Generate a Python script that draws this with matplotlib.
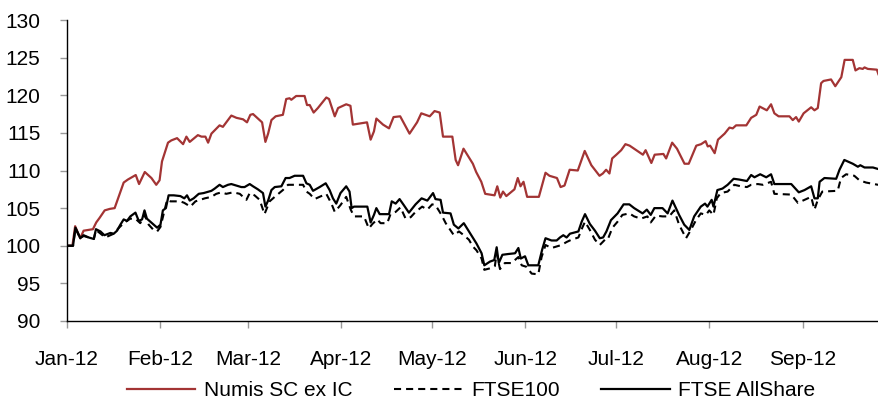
import matplotlib
matplotlib.use('Agg')
import matplotlib.pyplot as plt
import matplotlib.dates as mdates
import numpy as np

# ---------------- data (days since 1 Jan 2012, index level) ----------------
numis_days = [0, 1.8, 2.7, 4.4, 5.5, 8.6, 9.7, 10.8, 12.5, 14.2,
              15.8, 18.8, 20.2, 22.8, 23.9, 25.8, 28.0, 29.6, 30.7, 31.5,
              33.5, 34.6, 36.5, 38.5, 39.6, 40.7, 43.4, 44.6, 45.9, 46.8,
              47.9, 50.6, 51.7, 54.5, 56.2, 58.4, 59.7, 60.8, 61.7, 64.7,
              65.8, 66.7, 67.8, 69.2, 71.6, 72.7, 73.8, 74.4, 76.0, 78.8,
              79.6, 80.5, 81.8, 83.2, 86.0, 86.9, 88.8, 89.9, 92.6, 94.0,
              94.8, 99.5, 100.7, 101.8, 102.6, 104.8, 106.8, 108.3, 110.5, 113.6,
              116.1, 117.5, 120.3, 121.9, 123.6, 124.7, 127.8, 128.9, 129.7, 131.5,
              134.6, 135.7, 137.4, 138.7, 141.8, 142.7, 143.7, 144.6, 145.7, 148.4,
              149.5, 150.4, 151.4, 152.6, 156.5, 158.7, 160.0, 162.5, 163.7, 165.0,
              166.7, 169.4, 171.7, 173.9, 176.6, 177.7, 178.8, 179.9, 180.8, 182.2,
              183.8, 185.2, 186.6, 191.0, 191.9, 193.8, 194.9, 197.8, 198.7, 200.7,
              202.3, 204.8, 206.2, 208.7, 210.3, 211.8, 212.5, 213.3, 214.8, 215.9,
              218.1, 219.7, 220.8, 221.9, 225.3, 226.9, 228.6, 229.7, 232.1, 233.5,
              234.6, 236.0, 239.6, 240.7, 241.8, 242.7, 244.3, 246.8, 247.9, 249.0,
              250.1, 250.9, 253.4, 254.8, 256.8, 257.9, 260.6, 261.5, 262.8, 263.9,
              264.5, 265.6, 268.6, 269.1]
numis_vals = [100, 100, 102.6, 101.0, 102.0, 102.2, 103.1, 103.7, 104.7, 104.9,
              105.0, 108.4, 108.8, 109.4, 108.2, 109.8, 109.0, 108.1, 108.7, 111.2,
              113.7, 114.0, 114.3, 113.5, 114.5, 113.8, 114.7, 114.5, 114.5, 113.7,
              114.9, 116.0, 115.8, 117.3, 117.0, 116.8, 116.4, 117.4, 117.5, 116.4,
              113.8, 114.9, 116.7, 117.2, 117.4, 119.5, 119.6, 119.4, 119.9, 119.9,
              118.7, 118.7, 117.7, 118.3, 119.7, 119.5, 117.2, 118.3, 118.8, 118.6,
              116.1, 116.4, 114.1, 115.2, 116.9, 116.1, 115.6, 117.1, 117.2, 114.9,
              116.4, 117.6, 117.2, 117.9, 117.7, 114.5, 114.5, 111.4, 110.7, 112.9,
              110.9, 109.8, 108.5, 106.9, 106.7, 107.9, 106.4, 107.2, 106.6, 107.5,
              109.0, 107.9, 108.5, 106.5, 106.5, 109.7, 109.3, 109.0, 107.8, 108.0,
              110.1, 110.0, 112.6, 110.7, 109.3, 109.6, 110.1, 109.6, 111.6, 112.1,
              112.7, 113.5, 113.3, 112.1, 112.7, 111.0, 112.1, 112.2, 111.6, 113.7,
              112.9, 110.9, 110.9, 113.3, 113.5, 113.9, 113.2, 113.3, 112.3, 114.1,
              114.9, 115.7, 115.6, 116.0, 116.0, 117.0, 117.4, 118.5, 118.0, 118.8,
              117.6, 117.2, 117.2, 116.7, 117.1, 116.5, 117.6, 118.4, 118.0, 118.3,
              121.6, 121.9, 122.1, 121.2, 122.4, 124.7, 124.7, 123.3, 123.6, 123.5,
              123.7, 123.5, 123.4, 122.8]

allshare_days = [0, 2.0, 2.8, 4.4, 5.5, 7.2, 8.9, 9.6, 11.1, 12.4,
                 14.4, 15.5, 16.6, 17.7, 18.8, 19.9, 21.0, 22.7, 23.8, 24.9,
                 25.7, 26.5, 28.2, 29.9, 31.0, 31.8, 32.8, 33.7, 35.4, 37.6,
                 38.9, 39.8, 40.7, 42.0, 43.7, 45.3, 47.9, 49.0, 50.6, 51.7,
                 53.4, 54.5, 56.2, 57.8, 58.9, 60.6, 61.7, 63.3, 65.0, 65.8,
                 66.7, 67.8, 68.9, 71.1, 72.5, 73.8, 75.5, 78.3, 79.4, 80.5,
                 81.6, 83.8, 85.8, 87.1, 88.2, 89.3, 90.7, 92.6, 93.7, 94.4,
                 95.2, 99.6, 100.7, 101.8, 102.6, 103.7, 106.8, 107.7, 109.0, 110.3,
                 111.7, 113.4, 115.6, 117.6, 119.5, 121.4, 122.2, 123.9, 124.7, 127.2,
                 128.3, 129.8, 131.6, 133.3, 135.8, 137.5, 138.4, 140.3, 141.7, 142.5,
                 143.2, 144.4, 146.3, 148.6, 149.7, 150.5, 151.9, 153.0, 156.3, 157.6,
                 158.7, 160.7, 162.4, 163.5, 164.6, 165.7, 166.8, 169.6, 170.7, 171.8,
                 173.4, 175.1, 176.7, 177.8, 178.9, 180.4, 182.6, 184.6, 186.5, 188.1,
                 190.9, 192.3, 193.6, 194.8, 197.5, 199.2, 200.8, 203.0, 204.7, 206.4,
                 208.0, 210.2, 211.6, 212.4, 213.8, 214.4, 215.7, 217.4, 219.1, 221.1,
                 222.9, 225.5, 226.9, 228.0, 229.9, 231.9, 233.5, 234.6, 240.2, 242.7,
                 244.6, 246.8, 247.9, 249.0, 249.6, 251.2, 255.1, 256.2, 257.8, 260.6,
                 262.3, 263.1, 264.5, 267.3, 269.0]
allshare_vals = [100, 100, 102.4, 101.0, 101.4, 101.1, 100.9, 102.2, 101.9, 101.4,
                 101.7, 101.6, 102.0, 102.8, 103.5, 103.3, 103.9, 104.4, 103.3, 103.5,
                 104.7, 103.6, 103.0, 102.4, 102.8, 104.7, 105.0, 106.7, 106.7, 106.6,
                 106.3, 106.7, 106.0, 106.3, 106.9, 107.0, 107.3, 107.6, 108.1, 107.8,
                 108.1, 108.2, 108.0, 107.8, 107.8, 108.2, 107.9, 107.5, 107.0, 105.2,
                 106.0, 107.4, 107.8, 107.9, 109.0, 109.0, 109.3, 109.3, 108.3, 108.1,
                 107.3, 107.8, 108.3, 107.4, 106.3, 105.6, 107.0, 107.9, 107.2, 105.0,
                 105.2, 105.2, 103.1, 104.1, 105.0, 104.2, 104.2, 105.9, 105.6, 106.2,
                 105.4, 104.4, 105.5, 106.3, 106.0, 107.0, 106.2, 106.1, 104.4, 104.3,
                 102.8, 102.3, 103.0, 101.9, 100.3, 99.0, 97.4, 97.9, 98.1, 99.8,
                 97.7, 98.8, 98.9, 99.0, 99.7, 98.3, 98.6, 97.4, 97.4, 99.5,
                 101.0, 100.7, 100.7, 101.1, 101.4, 101.1, 101.6, 101.9, 103.2, 104.2,
                 102.9, 102.0, 101.0, 101.1, 101.9, 103.4, 104.3, 105.5, 105.5, 105.0,
                 104.3, 104.8, 104.1, 105.0, 105.0, 104.3, 106.0, 104.1, 102.8, 102.1,
                 103.9, 105.2, 105.6, 105.2, 106.1, 105.2, 107.4, 107.6, 108.1, 108.9,
                 108.8, 108.6, 109.4, 109.1, 109.5, 109.1, 109.5, 108.2, 108.2, 107.1,
                 107.4, 107.9, 106.3, 106.3, 108.5, 109.0, 108.9, 110.1, 111.4, 110.9,
                 110.5, 110.7, 110.4, 110.4, 110.2]

ftse100_days = [0, 2.0, 2.8, 4.4, 5.5, 8.9, 9.6, 12.7, 15.5, 17.0,
                18.8, 21.0, 22.7, 24.3, 25.7, 27.1, 28.7, 29.9, 31.0, 32.1,
                33.2, 34.3, 37.6, 38.9, 40.9, 42.6, 44.2, 45.7, 47.9, 49.5,
                51.2, 52.8, 55.1, 57.3, 59.5, 60.6, 62.2, 63.9, 65.5, 67.2,
                68.9, 71.6, 73.3, 76.1, 78.3, 79.4, 80.5, 82.1, 83.8, 86.0,
                87.7, 88.8, 90.7, 92.6, 94.1, 95.2, 98.5, 100.1, 101.3, 102.9,
                104.0, 106.2, 107.3, 109.0, 110.6, 112.3, 114.0, 115.6, 117.8, 119.5,
                121.1, 122.2, 124.2, 125.6, 128.3, 130.0, 131.6, 133.3, 134.6, 135.8,
                137.5, 138.4, 140.3, 141.9, 142.5, 143.6, 145.2, 147.4, 149.7, 150.8,
                152.4, 154.1, 156.3, 157.4, 158.7, 160.7, 162.4, 164.0, 165.7, 167.3,
                169.6, 170.9, 171.8, 173.4, 175.1, 176.7, 178.4, 179.3, 180.9, 182.6,
                184.2, 186.5, 188.1, 190.3, 192.5, 193.6, 195.3, 197.5, 199.7, 201.4,
                203.0, 205.3, 206.9, 208.6, 210.2, 211.9, 213.0, 214.4, 215.5, 216.8,
                219.1, 221.3, 223.5, 225.5, 226.9, 229.1, 230.8, 233.5, 234.6, 240.2,
                242.4, 244.6, 246.8, 247.9, 249.0, 250.5, 255.6, 256.7, 258.4, 261.1,
                262.8, 265.0, 269.0]
ftse100_vals = [100, 100, 102.3, 101.0, 101.3, 100.9, 102.1, 101.1, 101.6, 102.3,
                103.0, 103.6, 103.6, 103.0, 104.1, 102.8, 102.1, 101.9, 102.5, 104.3,
                106.1, 105.9, 105.9, 105.7, 105.2, 105.9, 106.1, 106.3, 106.5, 106.9,
                107.1, 106.9, 107.1, 106.9, 106.1, 107.0, 106.7, 106.1, 104.2, 105.9,
                106.5, 107.4, 108.1, 108.1, 108.1, 107.2, 106.9, 106.2, 106.5, 106.9,
                105.6, 104.5, 105.4, 106.5, 104.8, 103.9, 103.9, 102.3, 102.9, 103.5,
                103.0, 103.0, 104.2, 104.5, 105.1, 103.6, 103.8, 104.5, 105.2, 104.8,
                105.5, 105.4, 104.1, 103.0, 101.4, 101.9, 101.4, 100.8, 99.9, 99.4,
                98.3, 96.8, 97.0, 97.3, 99.0, 96.9, 97.7, 97.7, 98.5, 97.4,
                97.2, 96.3, 96.2, 98.5, 100.1, 99.7, 99.9, 100.1, 100.5, 100.8,
                101.1, 102.4, 103.2, 102.1, 100.8, 100.1, 100.8, 100.8, 102.4, 103.2,
                104.1, 104.3, 103.9, 103.6, 103.9, 103.1, 104.0, 103.9, 103.9, 104.7,
                102.8, 101.0, 102.1, 103.4, 104.3, 104.1, 104.7, 104.1, 106.3, 107.0,
                107.2, 108.1, 107.9, 107.8, 108.1, 108.2, 108.1, 108.5, 106.9, 106.8,
                105.7, 106.1, 106.5, 104.8, 106.1, 107.2, 107.3, 109.0, 109.5, 109.3,
                108.7, 108.4, 108.1]

series_labels = ['Numis SC ex IC', 'FTSE100', 'FTSE AllShare']
y_ticks = [90, 95, 100, 105, 110, 115, 120, 125, 130]

# ---------------- figure ----------------
plt.rcParams['font.family'] = ['Liberation Sans', 'DejaVu Sans']

W, H = 879, 400
fig = plt.figure(figsize=(W / 100, H / 100), dpi=100)
ax = fig.add_axes([67 / W, 79 / H, (W - 67) / W, 301 / H])

base = mdates.date2num(np.datetime64('2012-01-01'))

l1, = ax.plot(base + np.array(numis_days), numis_vals, color='#A33434', lw=1.6,
              label=series_labels[0])
l2, = ax.plot(base + np.array(ftse100_days), ftse100_vals, color='black', lw=1.5,
              dashes=(3.4, 2.4), label=series_labels[1])
l3, = ax.plot(base + np.array(allshare_days), allshare_vals, color='black', lw=1.6,
              label=series_labels[2])

ax.set_xlim(base, base + 269.3)
ax.set_ylim(90, 130)
ax.set_yticks(y_ticks)
ax.xaxis.set_major_locator(mdates.MonthLocator())
ax.xaxis.set_major_formatter(mdates.DateFormatter('%b-%y'))

for s in ('top', 'right'):
    ax.spines[s].set_visible(False)
for s in ('left', 'bottom'):
    ax.spines[s].set_color('black')
    ax.spines[s].set_linewidth(1.0)

ax.tick_params(axis='x', direction='out', length=5, width=1, color='#999999',
               pad=16, labelsize=15, labelcolor='black')
ax.tick_params(axis='y', direction='out', length=5, width=1, color='#999999',
               pad=14, labelsize=15, labelcolor='black')

fig.legend(handles=[l1, l2, l3], loc='center', bbox_to_anchor=(471 / W, 1 - 391 / H),
           ncol=3, frameon=False, fontsize=15, handlelength=3.3,
           handletextpad=0.4, columnspacing=2.0, borderaxespad=0)

fig.savefig('out.png', dpi=100)
